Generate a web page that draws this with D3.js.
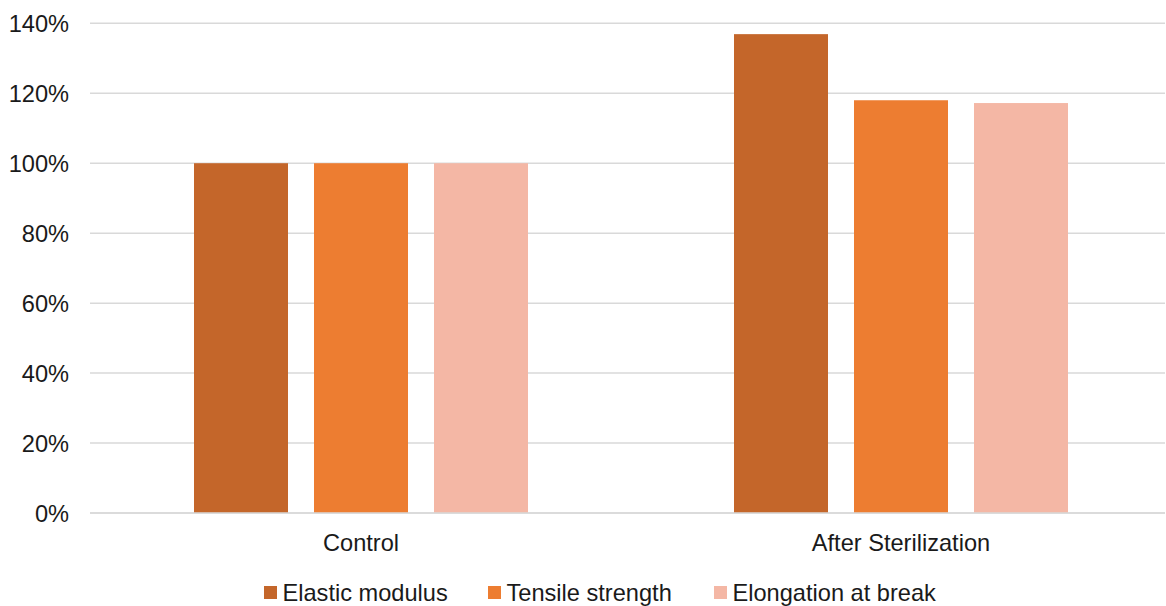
<!DOCTYPE html>
<html>
<head>
<meta charset="utf-8">
<script src="https://cdn.jsdelivr.net/npm/d3@7"></script>
<style>
  html, body { margin: 0; padding: 0; background: #fff; }
  svg { display: block; font-family: "Liberation Sans", Arial, sans-serif; }
</style>
</head>
<body>
<svg id="chart" width="1166" height="606"></svg>
<script>
// Mechanical properties relative to control (%)
const categories = ["Control", "After Sterilization"];
const seriesNames = ["Elastic modulus", "Tensile strength", "Elongation at break"];
const elasticModulus = [100, 136.9];
const tensileStrength = [100, 118.0];
const elongationAtBreak = [100, 117.2];
const yTicks = [0, 20, 40, 60, 80, 100, 120, 140];
const colors = ["#C4662A", "#ED7D31", "#F4B7A5"];

const seriesValues = [elasticModulus, tensileStrength, elongationAtBreak];
const FONT = 23.6;

const svg = d3.select("#chart");
const plot = { left: 91, right: 1171, top: 23.3, bottom: 513 };

const y = d3.scaleLinear().domain([0, 140]).range([plot.bottom, plot.top]);
const x0 = d3.scaleBand().domain(categories).range([plot.left, plot.right]).paddingInner(0).paddingOuter(0);
// three bars of ~94px with ~26px gaps, centered in each 540px band
const x1 = d3.scaleBand().domain(seriesNames).range([103, 437]).paddingInner(26 / 120).paddingOuter(0);

// gridlines
svg.append("g")
  .selectAll("line")
  .data(yTicks)
  .join("line")
  .attr("x1", 90).attr("x2", 1165)
  .attr("y1", d => y(d)).attr("y2", d => y(d))
  .attr("stroke", "#D9D9D9")
  .attr("stroke-width", 1.5);

// y axis labels
const yAxis = d3.axisLeft(y).tickValues(yTicks).tickFormat(d => d + "%").tickSize(0).tickPadding(0);
const gy = svg.append("g").attr("transform", "translate(69,0)").call(yAxis);
gy.select(".domain").remove();
gy.selectAll("text")
  .attr("font-size", FONT)
  .attr("fill", "#1a1a1a")
  .attr("font-family", "'Liberation Sans', Arial, sans-serif")
  .attr("dy", "0.36em");

// bars
const groups = svg.append("g")
  .selectAll("g")
  .data(categories)
  .join("g")
  .attr("transform", d => `translate(${x0(d)},0)`);

groups.selectAll("rect")
  .data((c, ci) => seriesNames.map((s, si) => ({ s, si, v: seriesValues[si][ci] })))
  .join("rect")
  .attr("x", d => x1(d.s))
  .attr("width", x1.bandwidth())
  .attr("y", d => y(d.v))
  .attr("height", d => y(0) - y(d.v))
  .attr("fill", d => colors[d.si]);

// baseline redrawn over bars
svg.append("line")
  .attr("x1", 90).attr("x2", 1165)
  .attr("y1", y(0)).attr("y2", y(0))
  .attr("stroke", "#D9D9D9").attr("stroke-width", 1.5);

// x axis category labels
const xAxis = d3.axisBottom(x0).tickSize(0).tickPadding(0);
const gx = svg.append("g").attr("transform", `translate(0,${plot.bottom})`).call(xAxis);
gx.select(".domain").remove();
gx.selectAll("text")
  .attr("font-size", FONT)
  .attr("fill", "#1a1a1a")
  .attr("font-family", "'Liberation Sans', Arial, sans-serif")
  .attr("y", 38)
  .attr("dy", 0);

// legend
const legendItems = [
  { name: seriesNames[0], x: 264 },
  { name: seriesNames[1], x: 488 },
  { name: seriesNames[2], x: 714 }
];
const lg = svg.append("g");
legendItems.forEach((it, i) => {
  lg.append("rect")
    .attr("x", it.x).attr("y", 586)
    .attr("width", 13).attr("height", 13)
    .attr("fill", colors[i]);
  lg.append("text")
    .attr("x", it.x + 18.5).attr("y", 601)
    .attr("font-size", FONT)
    .attr("fill", "#1a1a1a")
    .text(it.name);
});
</script>
</body>
</html>
